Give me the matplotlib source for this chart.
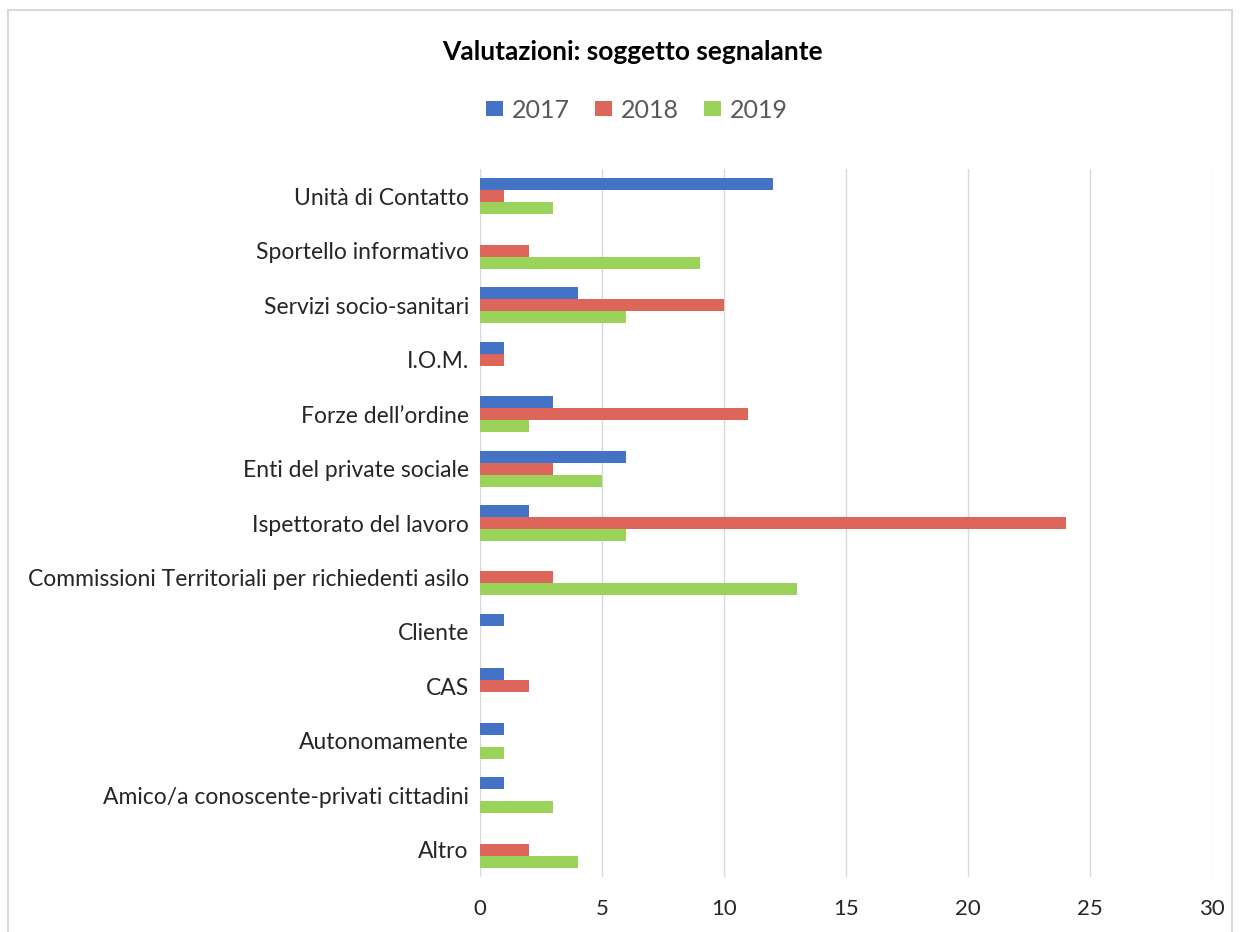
import matplotlib
matplotlib.use("Agg")
import matplotlib.pyplot as plt
from matplotlib.patches import Rectangle
import numpy as np

categories = ["Unità di Contatto", "Sportello informativo", "Servizi socio-sanitari",
              "I.O.M.", "Forze dell\u2019ordine", "Enti del private sociale",
              "Ispettorato del lavoro", "Commissioni Territoriali per richiedenti asilo",
              "Cliente", "CAS", "Autonomamente", "Amico/a conoscente-privati cittadini", "Altro"]
v2017 = [12, 0, 4, 1, 3, 6, 2, 0, 1, 1, 1, 1, 0]
v2018 = [1, 2, 10, 1, 11, 3, 24, 3, 0, 2, 0, 0, 2]
v2019 = [3, 9, 6, 0, 2, 5, 6, 13, 0, 0, 1, 3, 4]
years = ["2017", "2018", "2019"]
xticks = [0, 5, 10, 15, 20, 25, 30]

colors = ["#4472C4", "#DB6659", "#9BD25A"]
plt.rcParams['font.family'] = ['Lato', 'DejaVu Sans']

W, H = 1242, 932
fig = plt.figure(figsize=(W/100, H/100), dpi=100)
ax = fig.add_axes([480/W, 1-877/H, (1212-480)/W, (877-169)/H])

n = len(categories)
y = np.arange(n)
bh = 0.22
for i, (vals, c, lab) in enumerate(zip([v2017, v2018, v2019], colors, years)):
    ax.barh(y + (i-1)*bh, vals, height=bh, color=c, label=lab, zorder=3)

ax.set_xlim(0, 30)
ax.set_ylim(n-0.5, -0.5)
ax.set_xticks(xticks)
ax.set_xticklabels([str(t) for t in xticks], fontsize=16, color="#262626")
ax.set_yticks(y)
ax.set_yticklabels(categories, fontsize=16.5, color="#262626")
ax.tick_params(axis='both', length=0)
ax.tick_params(axis='x', pad=16)
ax.tick_params(axis='y', pad=8)
ax.grid(axis='x', color="#D9D9D9", linewidth=1, zorder=0)
for s in ax.spines.values():
    s.set_visible(False)

fig.text(632/W, 1-52/H, "Valutazioni: soggetto segnalante", ha='center', va='center',
         fontsize=19, fontweight='bold', color="#000000")

leg = fig.legend(loc='center', bbox_to_anchor=(637/W, 1-110/H), ncol=3, frameon=False,
                 fontsize=18, handlelength=0.68, handleheight=0.56, handletextpad=0.36,
                 columnspacing=1.0)
for t in leg.get_texts():
    t.set_color("#595959")

fig.patches.append(Rectangle((8/W, -0.05), (1232-8)/W, 1-10/H+0.05, transform=fig.transFigure,
                             fill=False, edgecolor="#D9D9D9", linewidth=1.5))

fig.savefig("out.png", dpi=100)
